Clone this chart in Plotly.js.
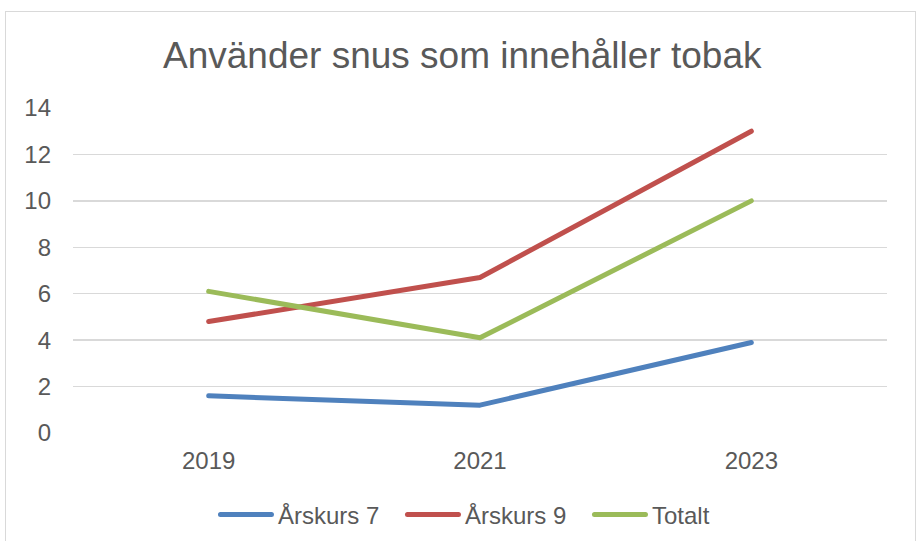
<!DOCTYPE html>
<html>
<head>
<meta charset="utf-8">
<script src="https://cdn.plot.ly/plotly-3.0.1.min.js"></script>
<style>
html,body{margin:0;padding:0;background:#fff;}
#wrap{position:relative;width:919px;height:541px;overflow:hidden;}
#chart{position:absolute;left:0;top:0;width:919px;height:541px;}
#frame{position:absolute;left:5px;top:11px;width:909px;height:560px;border:1.5px solid #d9d9d9;pointer-events:none;}
</style>
</head>
<body>
<div id="wrap"><div id="chart"></div><div id="frame"></div></div>
<script>
const years = ['2019', '2021', '2023'];
const ak7 = [1.6, 1.2, 3.9];
const ak9 = [4.8, 6.7, 13];
const totalt = [6.1, 4.1, 10];
const seriesNames = ['Årskurs 7', 'Årskurs 9', 'Totalt'];
const colors = ['#4F81BD', '#C0504D', '#9BBB59'];
const yTicks = [0, 2, 4, 6, 8, 10, 12, 14];

const font = 'Liberation Sans, Arial, sans-serif';
const txt = '#595959';

const traces = [ak7, ak9, totalt].map((vals, i) => ({
  type: 'scatter',
  mode: 'lines',
  x: years,
  y: vals,
  name: seriesNames[i],
  line: {color: colors[i], width: 5},
  hoverinfo: 'skip'
}));

const layout = {
  width: 919,
  height: 541,
  paper_bgcolor: 'rgba(0,0,0,0)',
  plot_bgcolor: 'rgba(0,0,0,0)',
  margin: {l: 73, r: 32, t: 108, b: 108, autoexpand: false},
  title: {
    text: 'Använder snus som innehåller tobak',
    font: {family: font, size: 37, color: txt},
    x: 0.503, xanchor: 'center',
    y: 0.898, yanchor: 'middle'
  },
  xaxis: {
    type: 'category',
    range: [-0.5, 2.5],
    showgrid: false,
    zeroline: false,
    showline: false,
    ticks: '',
    tickfont: {family: font, size: 24, color: txt},
    ticklabelstandoff: 11,
    fixedrange: true
  },
  yaxis: {
    range: [0, 14],
    tickvals: yTicks,
    ticktext: yTicks.map(String),
    showgrid: true,
    gridcolor: '#d9d9d9',
    gridwidth: 1.5,
    zeroline: false,
    showline: false,
    ticks: '',
    tickfont: {family: font, size: 24, color: txt},
    ticklabelstandoff: 21,
    fixedrange: true
  },
  showlegend: true,
  legend: {
    orientation: 'h',
    x: 0.1781, xanchor: 'left',
    y: -0.252, yanchor: 'middle',
    itemwidth: 50,
    entrywidth: 122, entrywidthmode: 'pixels',
    font: {family: font, size: 24, color: txt},
    bgcolor: 'rgba(0,0,0,0)',
    itemclick: false, itemdoubleclick: false
  }
};

Plotly.newPlot('chart', traces, layout, {displayModeBar: false, staticPlot: true}).then(gd => {
  gd.querySelectorAll('.scatterlayer .js-line').forEach(p => {
    p.style.strokeLinecap = 'round';
    p.style.strokeLinejoin = 'round';
  });
  gd.querySelectorAll('.legend .legendlines path').forEach(p => {
    p.setAttribute('d', 'M2.5,0h51');
    p.style.strokeLinecap = 'round';
  });
});
</script>
</body>
</html>
